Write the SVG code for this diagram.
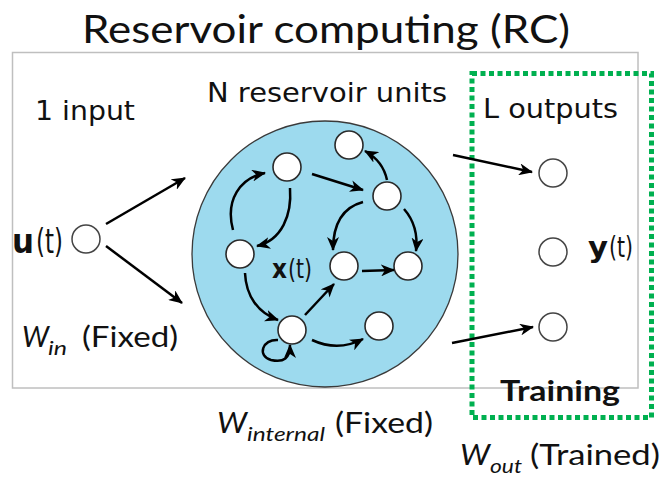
<svg xmlns="http://www.w3.org/2000/svg" width="665" height="481" viewBox="0 0 665 481">
  <defs>
    <marker id="arrow" markerUnits="userSpaceOnUse" markerWidth="14" markerHeight="12" viewBox="0 0 14 12" refX="13" refY="6" orient="auto">
      <path d="M0,0 L14,6 L0,12 L4,6 z" fill="#000"/>
    </marker>
    <style>
      .frame { fill: none; stroke: #bfbfbf; stroke-width: 1.5; }
      .train { fill: none; stroke: #00b050; stroke-width: 5; stroke-dasharray: 5 3.5; }
      .pool { fill: #9ddaee; stroke: #3a3a3a; stroke-width: 1.3; }
      .unit { fill: #fff; stroke: #2a2a2a; stroke-width: 1.6; }
      .io { fill: #fff; stroke: #444; stroke-width: 1.5; }
      .edge { fill: none; stroke: #000; stroke-width: 2.5; marker-end: url(#arrow); }
      .lbl { font-family: "DejaVu Sans", Verdana, sans-serif; fill: #111; }
      .cal { font-family: Lato, "Liberation Sans", sans-serif; fill: #111; }
      .b { font-weight: bold; }
    </style>
  </defs>

  <!-- title -->
  <text class="cal" x="82" y="43" font-size="38" textLength="488" lengthAdjust="spacingAndGlyphs">Reservoir computing (RC)</text>

  <!-- outer frame -->
  <rect class="frame" x="12.5" y="52.5" width="625.5" height="335.5"/>

  <!-- reservoir pool -->
  <g id="reservoir">
    <circle class="pool" cx="325" cy="254" r="133"/>
    <text class="lbl" x="207" y="102" font-size="27" textLength="240" lengthAdjust="spacingAndGlyphs">N reservoir units</text>
    <text class="lbl b" x="272" y="278" font-size="27" textLength="15" lengthAdjust="spacingAndGlyphs">x</text>
    <text class="lbl" x="288" y="278" font-size="27" textLength="24" lengthAdjust="spacingAndGlyphs">(t)</text>
  </g>

  <!-- reservoir units -->
  <g id="unit1"><circle class="unit" cx="287" cy="167" r="14"/></g>
  <g id="unit2"><circle class="unit" cx="349" cy="145" r="14"/></g>
  <g id="unit3"><circle class="unit" cx="387" cy="196" r="14"/></g>
  <g id="unit4"><circle class="unit" cx="240" cy="254" r="14"/></g>
  <g id="unit5"><circle class="unit" cx="344" cy="266" r="14"/></g>
  <g id="unit6"><circle class="unit" cx="408" cy="266" r="14"/></g>
  <g id="unit7"><circle class="unit" cx="292" cy="330" r="14"/></g>
  <g id="unit8"><circle class="unit" cx="379" cy="326" r="14"/></g>

  <!-- input -->
  <g id="input">
    <text class="lbl" x="35" y="120" font-size="27" textLength="100" lengthAdjust="spacingAndGlyphs">1 input</text>
    <circle class="io" cx="86" cy="239" r="14"/>
    <text class="lbl b" x="12" y="253" font-size="33" textLength="22" lengthAdjust="spacingAndGlyphs">u</text>
    <text class="lbl" x="36" y="253" font-size="33" textLength="27" lengthAdjust="spacingAndGlyphs">(t)</text>
    <text class="cal" x="22" y="347" font-size="29" font-style="italic" textLength="27" lengthAdjust="spacingAndGlyphs">W</text>
    <text class="cal" x="48" y="355" font-size="19" font-style="italic" textLength="19" lengthAdjust="spacingAndGlyphs">in</text>
    <text class="cal" x="82" y="347" font-size="28" textLength="96" lengthAdjust="spacingAndGlyphs">(Fixed)</text>
  </g>

  <!-- internal weights label -->
  <g id="internal-label">
    <text class="cal" x="217" y="433" font-size="29" font-style="italic" textLength="30" lengthAdjust="spacingAndGlyphs">W</text>
    <text class="cal" x="247" y="441" font-size="19" font-style="italic" textLength="78" lengthAdjust="spacingAndGlyphs">internal</text>
    <text class="cal" x="335" y="433" font-size="28" textLength="98" lengthAdjust="spacingAndGlyphs">(Fixed)</text>
  </g>

  <!-- outputs -->
  <g id="outputs">
    <text class="lbl" x="483" y="118" font-size="27" textLength="135" lengthAdjust="spacingAndGlyphs">L outputs</text>
    <circle class="io" cx="553" cy="173" r="14"/>
    <circle class="io" cx="553" cy="252" r="14"/>
    <circle class="io" cx="553" cy="327" r="14"/>
    <text class="lbl b" x="588" y="257" font-size="29" textLength="20" lengthAdjust="spacingAndGlyphs">y</text>
    <text class="lbl" x="609" y="257" font-size="29" textLength="24" lengthAdjust="spacingAndGlyphs">(t)</text>
  </g>

  <!-- training region -->
  <g id="training">
    <rect class="train" x="472" y="73.5" width="179.5" height="344"/>
    <text class="cal" x="500" y="401" font-size="28" font-weight="bold" textLength="120" lengthAdjust="spacingAndGlyphs">Training</text>
    <text class="cal" x="460" y="465" font-size="29" font-style="italic" textLength="30" lengthAdjust="spacingAndGlyphs">W</text>
    <text class="cal" x="490" y="473" font-size="19" font-style="italic" textLength="32" lengthAdjust="spacingAndGlyphs">out</text>
    <text class="cal" x="530" y="465" font-size="28" textLength="130" lengthAdjust="spacingAndGlyphs">(Trained)</text>
  </g>

  <!-- connectors -->
  <g id="connectors">
    <path class="edge" d="M106,224 L185,178"/>
    <path class="edge" d="M106,246 L182,303"/>
    <path class="edge" d="M453,155 L532,172"/>
    <path class="edge" d="M452,343 L533,327"/>

    <path class="edge" d="M312,174 L363,190"/>
    <path class="edge" d="M387,180 Q383,161 365,151"/>
    <path class="edge" d="M404,209 Q419,226 416,251"/>
    <path class="edge" d="M363,202 Q333,210 333,250"/>
    <path class="edge" d="M362,271 L394,270"/>
    <path class="edge" d="M233,230 C225,200 240,178 265,173"/>
    <path class="edge" d="M290,188 C292,215 282,240 257,246"/>
    <path class="edge" d="M245,273 C246,296 258,313 278,320"/>
    <path class="edge" d="M305,315 L334,284"/>
    <path class="edge" d="M312,340 Q338,352 363,339"/>
    <path class="edge" d="M278,340 C262,339 257,356 271,360 C284,363 290,358 290,345"/>
  </g>
</svg>
